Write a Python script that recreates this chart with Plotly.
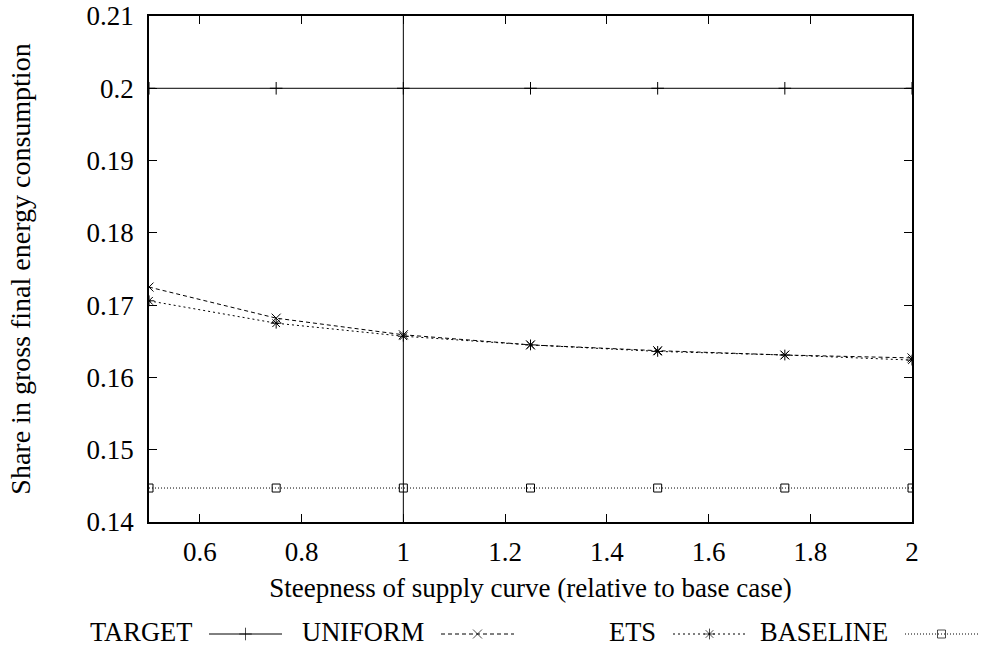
import plotly.graph_objects as go

# ---------------- data ----------------
steepness = [0.5, 0.75, 1.0, 1.25, 1.5, 1.75, 2.0]
target = [0.2, 0.2, 0.2, 0.2, 0.2, 0.2, 0.2]
uniform = [0.1725, 0.1682, 0.1659, 0.1645, 0.1637, 0.1631, 0.1627]
ets = [0.1706, 0.1675, 0.1657, 0.1645, 0.1636, 0.1631, 0.1624]
baseline = [0.1447, 0.1447, 0.1447, 0.1447, 0.1447, 0.1447, 0.1447]
base_case = 1.0

series_names = ["TARGET", "UNIFORM", "ETS", "BASELINE"]
x_tickvals = [0.6, 0.8, 1.0, 1.2, 1.4, 1.6, 1.8, 2.0]
x_ticktext = ["0.6", "0.8", "1", "1.2", "1.4", "1.6", "1.8", "2"]
y_tickvals = [0.14, 0.15, 0.16, 0.17, 0.18, 0.19, 0.20, 0.21]
y_ticktext = ["0.14", "0.15", "0.16", "0.17", "0.18", "0.19", "0.2", "0.21"]
x_title = "Steepness of supply curve (relative to base case)"
y_title = "Share in gross final energy consumption"

# ---------------- styles ----------------
W, H = 983, 647
SERIF = "Liberation Serif"
FONT = dict(family=SERIF, size=27, color="black")
LEG_FONT = dict(family=SERIF, size=26.5, color="black")
YT_FONT = dict(family=SERIF, size=28, color="black")
styles = {
    "TARGET": dict(dash="solid", symbol="cross-thin-open", size=9),
    "UNIFORM": dict(dash="4px,3px", symbol="x-thin-open", size=9),
    "ETS": dict(dash="2px,3px", symbol="asterisk-open", size=9),
    "BASELINE": dict(dash="1px,2px", symbol="square-open", size=8),
}
values = {"TARGET": target, "UNIFORM": uniform, "ETS": ets, "BASELINE": baseline}

# plot area in pixels
L, R, T, B = 149, 912, 16, 522

fig = go.Figure()
for name in series_names:
    st = styles[name]
    fig.add_trace(go.Scatter(
        x=steepness, y=values[name], mode="lines+markers", name=name,
        line=dict(color="black", width=1, dash=st["dash"]),
        marker=dict(symbol=st["symbol"], size=st["size"], color="black",
                    line=dict(color="black", width=1)),
        showlegend=False, xaxis="x", yaxis="y",
    ))

# vertical reference line at the base case
fig.add_shape(type="line", xref="x", yref="y domain", x0=base_case, x1=base_case,
              y0=0, y1=1, line=dict(color="black", width=1))

# ---------------- custom gnuplot-style legend (text, then sample) ----------------
leg_text_right = [193, 425, 657, 889]
leg_gap, leg_len, leg_y, leg_text_y = 16, 73, 634, 631.5
for name, xr in zip(series_names, leg_text_right):
    st = styles[name]
    x0 = xr + leg_gap
    x1 = x0 + leg_len
    xm = (x0 + x1) / 2
    fig.add_trace(go.Scatter(
        x=[x0, xm, x1], y=[leg_y] * 3, mode="lines+markers", showlegend=False,
        line=dict(color="black", width=1, dash=st["dash"]),
        marker=dict(symbol=st["symbol"], size=[0, st["size"], 0], color="black",
                    line=dict(color="black", width=1)),
        xaxis="x2", yaxis="y2", hoverinfo="skip",
    ))
    fig.add_annotation(x=xr / W, y=1 - leg_text_y / H, xref="paper", yref="paper",
                       text=name, showarrow=False, xanchor="right",
                       yanchor="middle", font=LEG_FONT, borderpad=0)

axis_common = dict(
    showgrid=False, zeroline=False, showline=True, linecolor="black", linewidth=1.5,
    mirror="ticks", ticks="inside", ticklen=8, tickwidth=1, tickcolor="black",
    automargin=False,
)

fig.update_layout(
    width=W, height=H,
    margin=dict(l=0, r=0, t=0, b=0),
    paper_bgcolor="white", plot_bgcolor="rgba(0,0,0,0)",
    font=FONT,
    xaxis=dict(domain=[L / W, R / W], range=[0.5, 2.0], tickvals=x_tickvals,
               ticktext=x_ticktext, anchor="y",
               tickfont=dict(family=SERIF, size=27, color="black"),
               title=dict(text=x_title, font=dict(FONT), standoff=12),
               ticklabelstandoff=5, **axis_common),
    yaxis=dict(domain=[1 - B / H, 1 - T / H], range=[0.14, 0.21], tickvals=y_tickvals,
               ticktext=y_ticktext, anchor="x",
               tickfont=dict(family=SERIF, size=27, color="black"),
               title=dict(text=y_title, font=YT_FONT, standoff=48),
               ticklabelstandoff=8, **axis_common),
    xaxis2=dict(domain=[0, 1], range=[0, W], visible=False, anchor="y2", fixedrange=True),
    yaxis2=dict(domain=[0, 1], range=[H, 0], visible=False, anchor="x2", fixedrange=True),
    showlegend=False,
)

fig.write_html("out.html", config={"displayModeBar": False},
               post_script="document.body.style.margin='0';")
